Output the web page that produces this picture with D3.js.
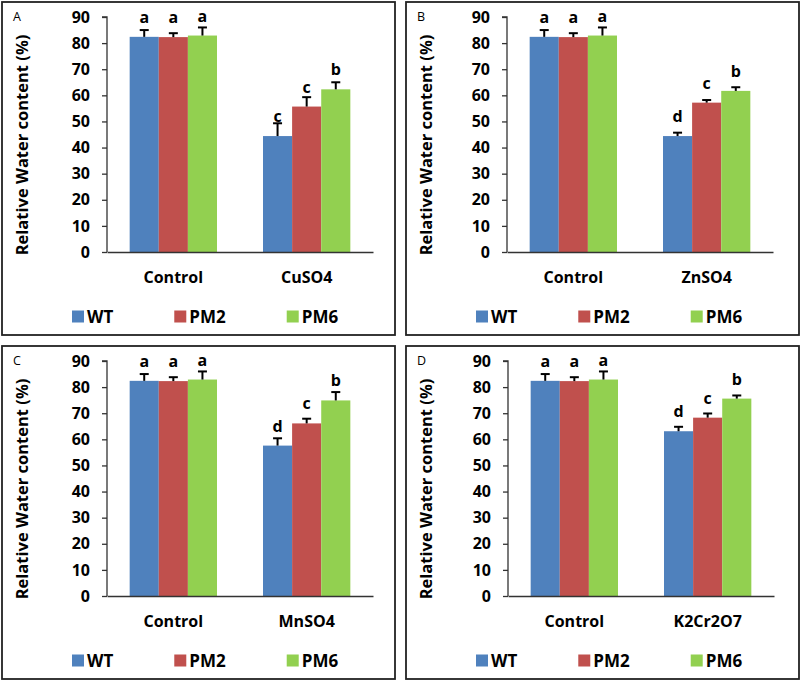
<!DOCTYPE html>
<html>
<head>
<meta charset="utf-8">
<script src="https://cdn.jsdelivr.net/npm/d3@7"></script>
<style>
  body { margin: 0; background: #fff; }
  svg { display: block; }
  text { font-family: "Open Sans", "Liberation Sans", sans-serif; }
</style>
</head>
<body>
<svg id="chart" width="800" height="682"></svg>
<script>
// data
var panelLetters = ["A", "B", "C", "D"];
var treatments = ["CuSO4", "ZnSO4", "MnSO4", "K2Cr2O7"];
var genotypes = ["WT", "PM2", "PM6"];
var colors = ["#4F81BD", "#C0504D", "#92D050"];
var yTicks = [0, 10, 20, 30, 40, 50, 60, 70, 80, 90];

var controlMean = [82.4, 82.3, 82.9];
var controlErr = [2.6, 1.5, 3.1];
var controlLetters = ["a", "a", "a"];

var treatMean = [
  [44.4, 55.7, 62.3],
  [44.4, 57.2, 61.7],
  [57.6, 66.1, 74.9],
  [63.1, 68.3, 75.6]
];
var treatErr = [
  [4.9, 3.6, 2.7],
  [1.3, 1.0, 1.4],
  [2.8, 1.8, 3.2],
  [1.7, 1.6, 1.2]
];
var treatLetters = [
  ["c", "c", "b"],
  ["d", "c", "b"],
  ["d", "c", "b"],
  ["d", "c", "b"]
];

var svg = d3.select("#chart");

var frames = [[2, 2], [406, 2], [2, 346], [406, 346]];
var axisLeft = [105, 101, 105, 102];
var frameW = 393, frameH = 333;
var plotW = 266, plotTop = 15, plotBottom = 250;

panelLetters.forEach(function (letter, p) {
  var g = svg.append("g")
    .attr("transform", "translate(" + frames[p][0] + "," + frames[p][1] + ")");

  g.append("rect")
    .attr("x", 0).attr("y", 0)
    .attr("width", frameW).attr("height", frameH)
    .attr("fill", "none").attr("stroke", "#222").attr("stroke-width", 1.8);

  g.append("text")
    .attr("x", 11).attr("y", 19)
    .attr("font-family", "Liberation Sans, Arial, sans-serif")
    .attr("font-size", 12.5)
    .text(letter);

  var groups = ["Control", treatments[p]];
  var rows = [];
  genotypes.forEach(function (gt, i) {
    rows.push({ group: "Control", gt: gt, i: i, v: controlMean[i], e: controlErr[i], l: controlLetters[i] });
    rows.push({ group: treatments[p], gt: gt, i: i, v: treatMean[p][i], e: treatErr[p][i], l: treatLetters[p][i] });
  });

  var plot = g.append("g").attr("transform", "translate(" + axisLeft[p] + ",0)");

  var x0 = d3.scaleBand().domain(groups).range([0, plotW]).paddingInner(0.345).paddingOuter(0.17);
  var x1 = d3.scaleBand().domain(genotypes).range([0, x0.bandwidth()]);
  var y = d3.scaleLinear().domain([0, 90]).range([plotBottom, plotTop]);

  var bar = plot.selectAll(".bar").data(rows).enter().append("g")
    .attr("transform", function (d) { return "translate(" + (x0(d.group) + x1(d.gt)) + ",0)"; });

  bar.append("rect")
    .attr("x", 0)
    .attr("y", function (d) { return y(d.v); })
    .attr("width", x1.bandwidth())
    .attr("height", function (d) { return y(0) - y(d.v); })
    .attr("fill", function (d) { return colors[d.i]; });

  var cx = x1.bandwidth() / 2;
  bar.append("line")
    .attr("x1", cx).attr("x2", cx)
    .attr("y1", function (d) { return y(d.v); })
    .attr("y2", function (d) { return y(d.v + d.e); })
    .attr("stroke", "#000").attr("stroke-width", 2);
  bar.append("line")
    .attr("x1", cx - 4.5).attr("x2", cx + 4.5)
    .attr("y1", function (d) { return y(d.v + d.e); })
    .attr("y2", function (d) { return y(d.v + d.e); })
    .attr("stroke", "#000").attr("stroke-width", 2);

  bar.append("text")
    .attr("x", cx)
    .attr("y", function (d) { return y(d.v) - 14; })
    .attr("text-anchor", "middle")
    .attr("font-weight", "bold")
    .attr("font-size", 16)
    .text(function (d) { return d.l; });

  // y axis
  var yAxis = plot.append("g")
    .call(d3.axisLeft(y).tickValues(yTicks).tickSize(5).tickPadding(12));
  yAxis.selectAll("text")
    .attr("font-family", "Open Sans, sans-serif")
    .attr("font-weight", "bold").attr("font-size", 16).attr("fill", "#000");
  yAxis.selectAll("line").attr("stroke", "#333").attr("stroke-width", 1.3);
  yAxis.select(".domain").attr("stroke", "#333").attr("stroke-width", 1.3)
    .attr("d", "M-5," + y(90) + "H0V" + y(0));

  // x axis
  var xAxis = plot.append("g")
    .attr("transform", "translate(0," + y(0) + ")")
    .call(d3.axisBottom(x0).tickSize(0).tickPadding(20));
  xAxis.selectAll("text")
    .attr("font-family", "Open Sans, sans-serif")
    .attr("font-weight", "bold").attr("font-size", 16).attr("fill", "#000");
  xAxis.select(".domain").attr("stroke", "#333").attr("stroke-width", 1.3);

  g.append("text")
    .attr("transform", "translate(26," + 143 + ") rotate(-90)")
    .attr("text-anchor", "middle")
    .attr("font-weight", "bold")
    .attr("font-size", 16.5)
    .text("Relative Water content (%)");

  // legend
  var lx = 70;
  genotypes.forEach(function (gt, i) {
    g.append("rect")
      .attr("x", lx).attr("y", 308.5)
      .attr("width", 12).attr("height", 12)
      .attr("fill", colors[i]);
    var t = g.append("text")
      .attr("x", lx + 15).attr("y", 320.5)
      .attr("font-weight", "bold")
      .attr("font-size", 17)
      .text(gt);
    lx += 15 + t.node().getComputedTextLength() + 61;
  });
});
</script>
</body>
</html>
